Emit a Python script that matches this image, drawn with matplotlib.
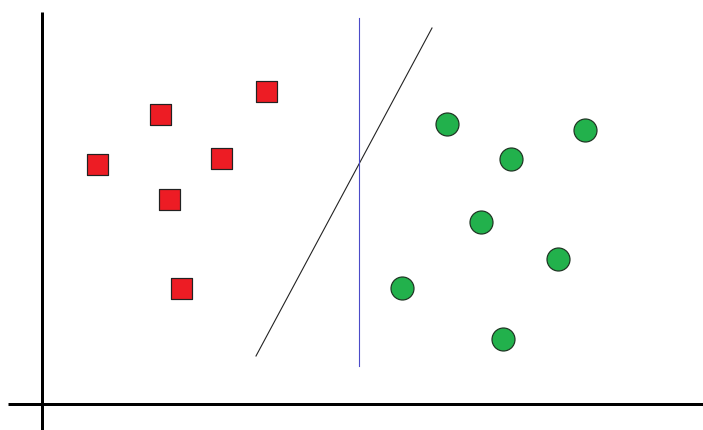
import numpy as np
import matplotlib
matplotlib.use("Agg")
import matplotlib.pyplot as plt

# two classes of points (y grows downward)
red_x = [266, 160, 97, 221, 169, 181]
red_y = [91, 114, 164, 158, 199, 288]
green_x = [447, 585, 511, 481, 558, 402, 503]
green_y = [124, 130, 159, 222, 259, 288, 339]

# separating lines
diag_x = [256, 432]
diag_y = [356, 28]
vert_x = [359, 359]
vert_y = [18, 366]

W, H = 703, 430
fig = plt.figure(figsize=(W / 100, H / 100), dpi=100)
ax = fig.add_axes([0, 0, 1, 1])
ax.set_xlim(0, W)
ax.set_ylim(H, 0)
ax.axis("off")

px = 72 / 100  # one pixel in points

# axes drawn by hand
ax.plot([42, 42], [12, 430], color="black", lw=3 * px, solid_capstyle="butt")
ax.plot([8, 703], [404, 404], color="black", lw=3 * px, solid_capstyle="butt")

ax.plot(diag_x, diag_y, color="#222222", lw=1.1 * px)
ax.plot(vert_x, vert_y, color="#4b4bc8", lw=1.1 * px)

ax.scatter(red_x, red_y, marker="s", s=(21 * px) ** 2, color="#ed1c24",
           edgecolors="#222222", linewidths=1.2 * px, zorder=3)
ax.scatter(green_x, green_y, marker="o", s=(23 * px) ** 2, color="#22b14c",
           edgecolors="#1e3322", linewidths=1.2 * px, zorder=3)

fig.savefig("out.png", dpi=100)
